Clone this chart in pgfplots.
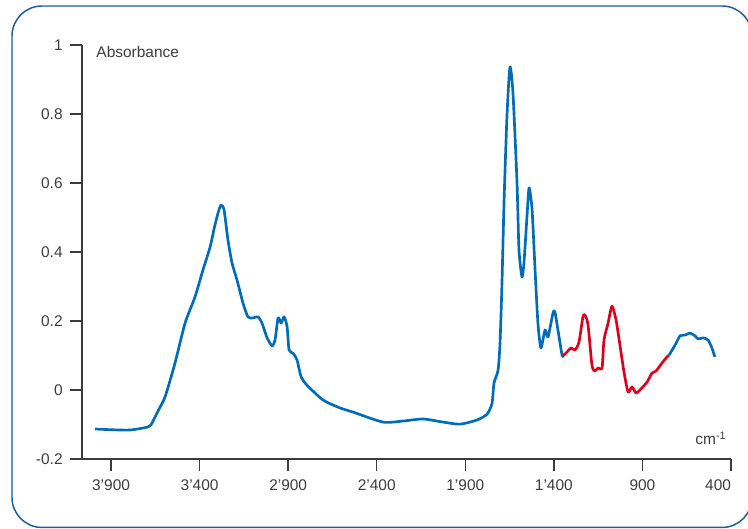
\documentclass[border=0pt]{standalone}
\usepackage{pgfplots}
\pgfplotsset{compat=1.18}
\usepackage{fontspec}
\setmainfont{Liberation Sans}
\definecolor{specblue}{RGB}{0,107,182}
\definecolor{specred}{RGB}{218,0,30}
\definecolor{frame}{RGB}{30,90,150}
\definecolor{txt}{RGB}{60,60,60}
\begin{document}
\begin{tikzpicture}
\begin{axis}[
    at={(61.5pt,51.75pt)}, anchor=south west,
    scale only axis,
    width=486.75pt, height=310.5pt,
    x dir=reverse,
    xmin=400, xmax=4064,
    ymin=-0.2, ymax=1,
    axis x line*=bottom,
    axis y line*=left,
    axis line style={txt, line width=1.1pt},
    tick style={txt, line width=1.1pt},
    tick align=outside,
    major tick length=9pt,
    xtick={3900,3400,2900,2400,1900,1400,900,400},
    xticklabels={3’900,3’400,2’900,2’400,1’900,1’400,900,{\makebox[0pt][r]{400}}},
    ytick={-0.2,0,0.2,0.4,0.6,0.8,1},
    yticklabels={-0.2,0,0.2,0.4,0.6,0.8,1},
    ticklabel style={font=\fontsize{11.6}{14}\selectfont, text=txt},
    xticklabel style={yshift=-3pt},
    yticklabel style={xshift=-2pt},
    clip=false,
]
\addplot[specblue, line width=2pt, smooth, tension=0.4, line join=round] coordinates {
    (3990,-0.113) (3906,-0.115) (3793,-0.116) (3691,-0.107) (3669,-0.096)
    (3635,-0.061) (3595,-0.020) (3539,0.078) (3482,0.194) (3426,0.270)
    (3381,0.348) (3341,0.414) (3315,0.475) (3293,0.518) (3279,0.536)
    (3262,0.522) (3240,0.435) (3217,0.368) (3189,0.319) (3155,0.252)
    (3127,0.212) (3098,0.209) (3070,0.212) (3048,0.194) (3019,0.151)
    (2991,0.128) (2974,0.145) (2957,0.209) (2940,0.194) (2923,0.212)
    (2906,0.183) (2895,0.116) (2873,0.107) (2850,0.087) (2827,0.038)
    (2794,0.014) (2703,-0.029) (2607,-0.052) (2534,-0.064) (2365,-0.093)
    (2252,-0.090) (2139,-0.084) (2026,-0.093) (1930,-0.099) (1834,-0.087)
    (1777,-0.070) (1749,-0.038) (1738,0.020) (1715,0.058) (1704,0.136)
    (1693,0.310) (1681,0.551) (1665,0.791) (1648,0.936) (1631,0.861)
    (1608,0.600) (1597,0.406) (1580,0.328) (1569,0.368) (1552,0.501)
    (1540,0.586) (1523,0.522) (1507,0.357) (1490,0.194) (1473,0.122)
    (1450,0.174) (1433,0.154) (1405,0.223) (1394,0.226) (1377,0.174)
    (1354,0.101) (1349,0.099)
};
\addplot[specred, line width=2pt, smooth, tension=0.4, line join=round] coordinates {
    (1349,0.099) (1326,0.110) (1303,0.122) (1281,0.116) (1258,0.139)
    (1236,0.212) (1224,0.217) (1207,0.188) (1185,0.072) (1168,0.055)
    (1151,0.064) (1128,0.064) (1117,0.145) (1094,0.194) (1072,0.243)
    (1049,0.203) (1027,0.130) (1004,0.052) (981,-0.006) (959,0.009)
    (936,-0.009) (914,0.000) (874,0.023) (846,0.049) (823,0.055)
    (790,0.078) (761,0.096) (750,0.101)
};
\addplot[specblue, line width=2pt, smooth, tension=0.4, line join=round] coordinates {
    (750,0.101) (716,0.130) (688,0.157) (660,0.159) (632,0.165)
    (603,0.157) (586,0.148) (558,0.151) (530,0.145) (508,0.122) (491,0.096)
};
\node[anchor=west, text=txt, font=\fontsize{11.6}{14}\selectfont]
    at (axis description cs:0.015,0.983) {Absorbance};
\node[anchor=east, text=txt, font=\fontsize{11.6}{14}\selectfont]
    at (axis description cs:1.0,0.05) {cm\textsuperscript{-1}};
\end{axis}
\draw[frame, line width=1.1pt, rounded corners=22.5pt]
    (9pt,0.4pt) rectangle (564pt,391.5pt);
\pgfresetboundingbox
\path[use as bounding box] (0,0) rectangle (561pt,396pt);
\end{tikzpicture}
\end{document}
